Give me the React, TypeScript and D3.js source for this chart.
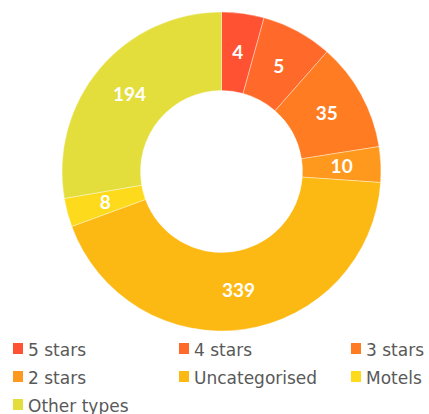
import * as d3 from "d3";
import { useEffect, useRef } from "react";

// categories, counts shown on the slices, and slice shares (% of the ring)
const categories = ["5 stars", "4 stars", "3 stars", "2 stars", "Uncategorised", "Motels", "Other types"];
const counts = [4, 5, 35, 10, 339, 8, 194];
const shares = [4.3, 7.2, 11.0, 3.6, 43.3, 2.9, 27.7];
const colors = ["#FF5232", "#FF6A2A", "#FF7C22", "#FF991E", "#FDB913", "#FDDA1B", "#E3DE3C"];

export default function App() {
  const ref = useRef<SVGSVGElement>(null);

  useEffect(() => {
    const svg = d3.select(ref.current);
    svg.selectAll("*").remove();

    const cx = 221.5;
    const cy = 171.5;
    const outer = 159.5;
    const inner = 81;

    const data = categories.map((c, i) => ({ name: c, count: counts[i], share: shares[i], color: colors[i] }));

    const pie = d3
      .pie<any>()
      .sort(null)
      .value((d) => d.share);
    const arc = d3.arc<any>().innerRadius(inner).outerRadius(outer);

    const g = svg.append("g").attr("transform", "translate(" + cx + "," + cy + ")");
    const arcs = pie(data);

    g.selectAll("path")
      .data(arcs)
      .enter()
      .append("path")
      .attr("d", arc)
      .attr("fill", (d) => d.data.color)
      .attr("stroke", "#ffffff")
      .attr("stroke-opacity", 0.5)
      .attr("stroke-width", 0.75);

    g.selectAll("text")
      .data(arcs)
      .enter()
      .append("text")
      .attr("x", (d) => arc.centroid(d)[0])
      .attr("y", (d) => arc.centroid(d)[1])
      .attr("dy", "0.36em")
      .attr("text-anchor", "middle")
      .attr("fill", "#ffffff")
      .attr("font-family", "Lato, sans-serif")
      .attr("font-weight", "bold")
      .attr("font-size", 19)
      .text((d) => d.data.count);

    // legend, 3 columns
    const colX = [13, 179, 351];
    const rowY = [343, 371, 399];
    const legend = svg
      .selectAll("g.leg")
      .data(data)
      .enter()
      .append("g")
      .attr("class", "leg")
      .attr("transform", (d, i) => "translate(" + colX[i % 3] + "," + rowY[Math.floor(i / 3)] + ")");

    legend.append("rect").attr("width", 10).attr("height", 11).attr("fill", (d) => d.color);
    legend
      .append("text")
      .attr("x", 15)
      .attr("y", 13)
      .attr("fill", "#595959")
      .attr("font-family", "DejaVu Sans, sans-serif")
      .attr("font-size", 17)
      .text((d) => d.name);
  }, []);

  return (
    <svg
      ref={ref}
      width={429}
      height={414}
      style={{ position: "absolute", left: 0, top: 0, background: "#ffffff" }}
    />
  );
}
